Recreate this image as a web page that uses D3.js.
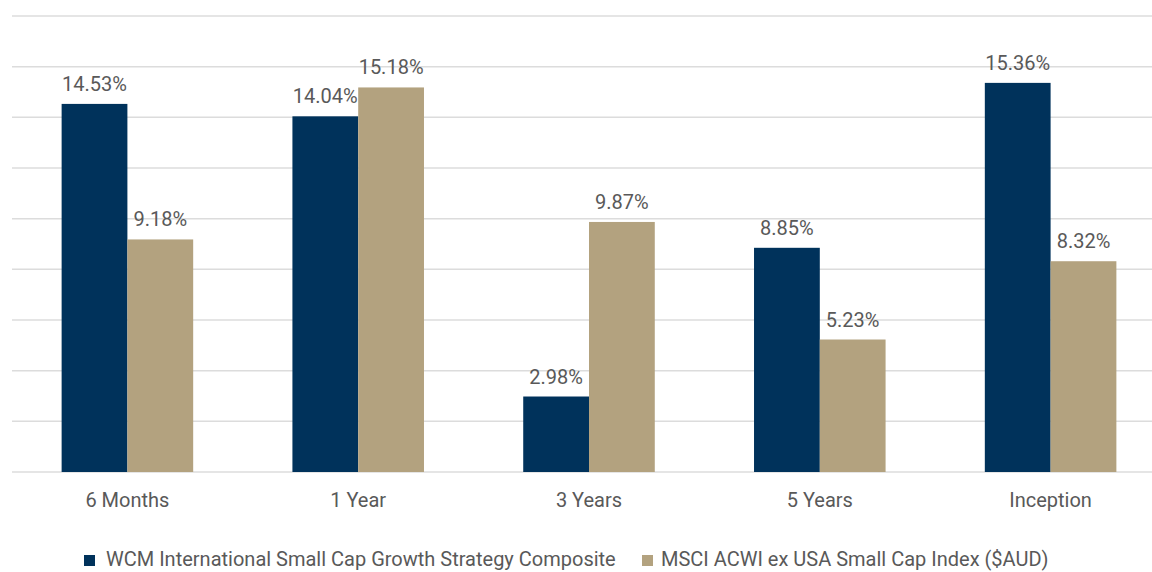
<!DOCTYPE html>
<html>
<head>
<meta charset="utf-8">
<script src="https://cdn.jsdelivr.net/npm/d3@7"></script>
<style>
  body { margin: 0; background: #fff; }
  svg { display: block; font-family: Roboto, "Noto Sans", sans-serif; }
</style>
</head>
<body>
<div id="chart"></div>
<script>
var categories = ["6 Months", "1 Year", "3 Years", "5 Years", "Inception"];
var seriesNames = ["WCM International Small Cap Growth Strategy Composite", "MSCI ACWI ex USA Small Cap Index ($AUD)"];
var wcm = [14.53, 14.04, 2.98, 8.85, 15.36];
var msci = [9.18, 15.18, 9.87, 5.23, 8.32];
var yTicks = [0, 2, 4, 6, 8, 10, 12, 14, 16, 18];

var colors = ["#00325b", "#b3a27f"];
var w = 1152, h = 572;

var svg = d3.select("#chart").append("svg")
    .attr("width", w)
    .attr("height", h);

var x0 = d3.scaleBand()
    .domain(categories)
    .range([12, 1166])
    .paddingInner(0.43)
    .paddingOuter(0.215);

var x1 = d3.scaleBand()
    .domain([0, 1])
    .range([0, x0.bandwidth()]);

var y = d3.scaleLinear().domain([0, 18]).range([472, 16]);

// gridlines
svg.append("g").selectAll("line")
    .data(yTicks)
    .enter().append("line")
    .attr("x1", 12)
    .attr("x2", 1166)
    .attr("y1", function(d) { return y(d); })
    .attr("y2", function(d) { return y(d); })
    .attr("stroke", "#dcdcdc")
    .attr("stroke-width", 1.5);

var rows = categories.map(function(c, i) { return { cat: c, vals: [wcm[i], msci[i]] }; });

var group = svg.selectAll("g.grp")
    .data(rows)
    .enter().append("g")
    .attr("class", "grp")
    .attr("transform", function(d) { return "translate(" + x0(d.cat) + ",0)"; });

group.selectAll("rect")
    .data(function(d) { return d.vals; })
    .enter().append("rect")
    .attr("x", function(d, i) { return x1(i); })
    .attr("y", function(d) { return y(d); })
    .attr("width", x1.bandwidth())
    .attr("height", function(d) { return y(0) - y(d); })
    .attr("fill", function(d, i) { return colors[i]; });

group.selectAll("text")
    .data(function(d) { return d.vals; })
    .enter().append("text")
    .attr("x", function(d, i) { return x1(i) + x1.bandwidth() / 2; })
    .attr("y", function(d) { return y(d) - 13; })
    .attr("text-anchor", "middle")
    .attr("fill", "#595959")
    .style("font-size", "20px")
    .text(function(d) { return d.toFixed(2) + "%"; });

// category labels
svg.append("g").selectAll("text")
    .data(categories)
    .enter().append("text")
    .attr("x", function(d) { return x0(d) + x0.bandwidth() / 2; })
    .attr("y", 507)
    .attr("text-anchor", "middle")
    .attr("fill", "#595959")
    .style("font-size", "20px")
    .text(function(d) { return d; });

// legend
var legendX = [84, 642];
var legendGap = [22, 19];
var legend = svg.append("g").selectAll("g")
    .data(seriesNames)
    .enter().append("g")
    .attr("transform", function(d, i) { return "translate(" + legendX[i] + ",555)"; });

legend.append("rect")
    .attr("width", 11)
    .attr("height", 11)
    .attr("fill", function(d, i) { return colors[i]; });

legend.append("text")
    .attr("x", function(d, i) { return legendGap[i]; })
    .attr("y", 11)
    .attr("fill", "#595959")
    .style("font-size", "20px")
    .text(function(d) { return d; });
</script>
</body>
</html>
